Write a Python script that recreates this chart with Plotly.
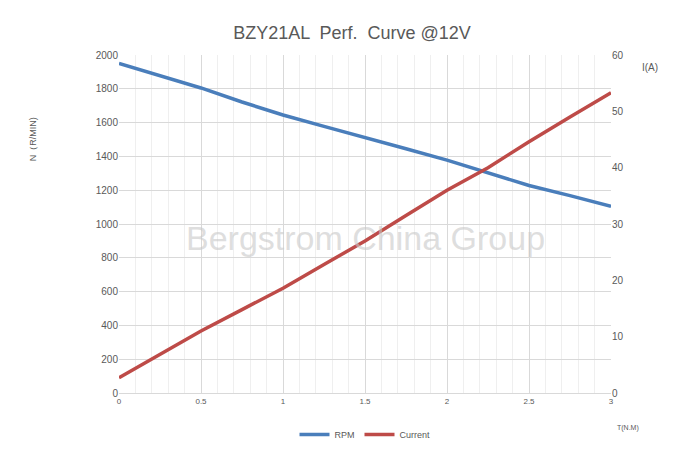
import plotly.graph_objects as go

torque = [0, 0.25, 0.5, 0.75, 1.0, 1.25, 1.5, 1.75, 2.0, 2.25, 2.5, 2.75, 3.0]
rpm = [1950, 1878, 1805, 1722, 1645, 1578, 1509, 1445, 1378, 1305, 1228, 1168, 1104]
current = [2.7, 6.8, 11.0, 14.8, 18.6, 22.8, 27.0, 31.5, 36.0, 40.0, 44.6, 49.0, 53.3]

fig = go.Figure()
fig.add_trace(go.Scatter(x=torque, y=rpm, name="RPM", mode="lines",
                         line=dict(color="#4a7ebb", width=3.5)))
fig.add_trace(go.Scatter(x=torque, y=current, name="Current", mode="lines", yaxis="y2",
                         line=dict(color="#be4b48", width=3.5)))
fig.update_layout(
    width=688, height=453, margin=dict(l=111, r=85, t=47, b=68, autoexpand=False),
    paper_bgcolor="white", plot_bgcolor="white",
    font=dict(family="Liberation Sans, Arial", size=9, color="#595959"),
    title=dict(text="BZY21AL  Perf.  Curve @12V", x=0.5, xanchor="center", y=0.96,
               font=dict(size=18, color="#595959")),
    xaxis=dict(range=[0, 3], dtick=0.5, showgrid=True, gridcolor="#d9d9d9",
               minor=dict(dtick=0.1, showgrid=True, gridcolor="#efefef"),
               tickfont=dict(size=8), zeroline=False, showline=True, linecolor="#d9d9d9"),
    yaxis=dict(range=[0, 2000], dtick=200, showgrid=True, gridcolor="#d9d9d9",
               zeroline=False, tickfont=dict(size=10)),
    yaxis2=dict(range=[0, 60], dtick=10, overlaying="y", side="right", showgrid=False,
                zeroline=False, tickfont=dict(size=10)),
    legend=dict(orientation="h", x=0.5, xanchor="center", y=-0.08, yanchor="top",
                font=dict(size=9)),
    annotations=[
        dict(text="Bergstrom China Group", xref="paper", yref="paper", x=0.5, y=0.46,
             showarrow=False, font=dict(size=34, color="rgba(200,200,200,0.6)")),
        dict(text="N（R/MIN)", xref="paper", yref="paper", x=-0.19, y=0.82,
             textangle=-90, showarrow=False, font=dict(size=9)),
        dict(text="I(A)", xref="paper", yref="paper", x=1.10, y=0.985,
             showarrow=False, font=dict(size=10)),
        dict(text="T(N.M)", xref="paper", yref="paper", x=1.06, y=-0.12,
             showarrow=False, font=dict(size=7)),
    ],
)
fig.write_html("out.html")
